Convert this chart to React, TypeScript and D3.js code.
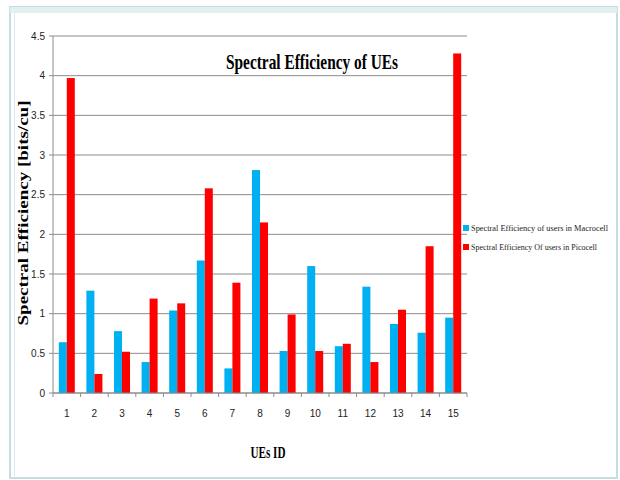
import React from "react";
import * as d3 from "d3";

const categories = ["1","2","3","4","5","6","7","8","9","10","11","12","13","14","15"];
const macroValues = [0.64,1.29,0.78,0.39,1.04,1.67,0.31,2.81,0.53,1.60,0.59,1.34,0.87,0.76,0.95];
const picoValues = [3.97,0.24,0.52,1.19,1.13,2.58,1.39,2.15,0.99,0.53,0.62,0.39,1.05,1.85,4.28];
const yTicks = [0,0.5,1,1.5,2,2.5,3,3.5,4,4.5];
const seriesNames = ["Spectral Efficiency of users in Macrocell","Spectral Efficiency Of users in Picocell"];
const colors = ["#00B0F0","#FF0000"];

export default function App() {
  const W = 620, H = 480;
  const left = 53, right = 467, top = 36, bottom = 393;
  const x = d3.scaleBand<string>().domain(categories).range([left, right]).paddingInner(0.42).paddingOuter(0.21);
  const y = d3.scaleLinear().domain([0, 4.5]).range([bottom, top]);
  const inner = d3.scaleBand<number>().domain([0,1]).range([0, x.bandwidth()]);
  const step = x.step();
  const labelFont = "'Liberation Sans Narrow','Liberation Sans',Arial,sans-serif";
  const serif = "'Liberation Serif','Times New Roman',serif";
  return (
    <div style={{position:"absolute",left:0,top:0}}>
      <svg width={W} height={H} style={{display:"block"}}>
        <rect x={0} y={0} width={W} height={H} fill="#ffffff"/>
        {/* frame */}
        <rect x={10} y={7} width={607} height={471} fill="none" stroke="#c5dde0" strokeWidth={2}/>
        <rect x={10} y={7} width={607} height={6} fill="#e3f0f1"/>
        <line x1={14.5} x2={14.5} y1={13} y2={476} stroke="#dbe9ea"/>
        {/* gridlines */}
        {yTicks.map(t => (
          <line key={"g"+t} x1={left} x2={right} y1={y(t)} y2={y(t)} stroke="#8c8c8c" strokeWidth={1}/>
        ))}
        {/* y axis */}
        <line x1={left} x2={left} y1={top} y2={bottom} stroke="#8c8c8c"/>
        {yTicks.map(t => (
          <g key={"yt"+t}>
            <line x1={left-4} x2={left} y1={y(t)} y2={y(t)} stroke="#8c8c8c"/>
            <text x={left-8} y={y(t)+3.5} textAnchor="end" fontSize={10} fontFamily={labelFont} fill="#222">{String(t)}</text>
          </g>
        ))}
        {/* bars */}
        {categories.map((c, i) => (
          <g key={"b"+c}>
            <rect x={x(c)! + inner(0)!} y={y(macroValues[i])} width={inner.bandwidth()} height={y(0)-y(macroValues[i])} fill={colors[0]}/>
            <rect x={x(c)! + inner(1)!} y={y(picoValues[i])} width={inner.bandwidth()} height={y(0)-y(picoValues[i])} fill={colors[1]}/>
          </g>
        ))}
        {/* x axis */}
        <line x1={left} x2={right} y1={bottom} y2={bottom} stroke="#8c8c8c"/>
        {d3.range(categories.length + 1).map(i => (
          <line key={"xt"+i} x1={left + i*step} x2={left + i*step} y1={bottom} y2={bottom+4} stroke="#8c8c8c"/>
        ))}
        {categories.map(c => (
          <text key={"xl"+c} x={x(c)! + x.bandwidth()/2} y={417} textAnchor="middle" fontSize={10} fontFamily={labelFont} fill="#222">{c}</text>
        ))}
        {/* title */}
        <text x={312} y={69} textAnchor="middle" fontSize={21} fontWeight="bold" fontFamily={serif} textLength={172} lengthAdjust="spacingAndGlyphs" fill="#000">Spectral Efficiency of UEs</text>
        {/* axis titles */}
        <text x={268} y={458} textAnchor="middle" fontSize={17} fontWeight="bold" fontFamily={serif} textLength={35} lengthAdjust="spacingAndGlyphs" fill="#000">UEs ID</text>
        <text transform={`translate(28,${213}) rotate(-90)`} textAnchor="middle" fontSize={15} fontWeight="bold" fontFamily={serif} textLength={225} lengthAdjust="spacingAndGlyphs" fill="#000">Spectral Efficiency [bits/cu]</text>
        {/* legend */}
        {seriesNames.map((n, i) => (
          <g key={"lg"+i}>
            <rect x={463} y={225 + i*19} width={6} height={6} fill={colors[i]}/>
            <text x={471} y={231 + i*19} fontSize={8.3} fontFamily={serif} textLength={i===0?137:126} lengthAdjust="spacingAndGlyphs" fill="#222">{n}</text>
          </g>
        ))}
      </svg>
    </div>
  );
}
